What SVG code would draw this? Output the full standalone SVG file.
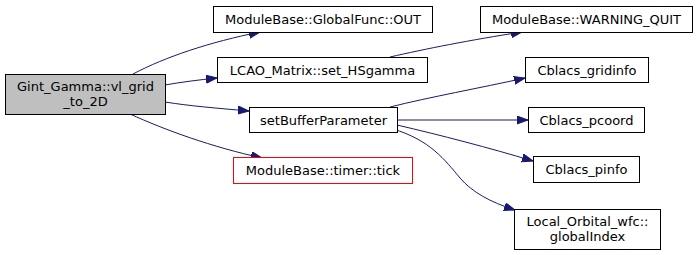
<svg xmlns="http://www.w3.org/2000/svg" width="699" height="255" viewBox="0 0 699 255">
  <style>
    .node rect { fill: #ffffff; stroke: #000000; stroke-width: 1; }
    .node.root rect { fill: #bfbfbf; }
    .node.ext rect { stroke: #ff0000; }
    text { font-family: "DejaVu Sans", sans-serif; font-size: 13px; fill: #000000; text-anchor: middle; }
    .edges path { fill: none; stroke: #191970; stroke-width: 1; marker-end: url(#arrow); }
  </style>
  <defs>
    <marker id="arrow" markerWidth="12" markerHeight="10" refX="11" refY="4" orient="auto" markerUnits="userSpaceOnUse">
      <path d="M0,0 L11,4 L0,8 Z" fill="#191970" stroke="#191970" stroke-width="1"/>
    </marker>
  </defs>
  <rect width="699" height="255" fill="#ffffff"/>

  <g class="edges">
    <path d="M133,74 C165,57 210,42 260,32"/>
    <path d="M165,85 C182,82 198,80 217,78"/>
    <path d="M165,102 C190,106 215,108 249,111"/>
    <path d="M130,114 C165,130 212,147 262,158"/>
    <path d="M390,57 C425,49 470,40 522,32"/>
    <path d="M390,107 C430,97 480,88 525,78"/>
    <path d="M397,120 L528,120"/>
    <path d="M397,125 C440,135 490,148 533,161"/>
    <path d="M393,129 C430,140 445,160 460,178 C472,192 490,202 515,210"/>
  </g>

  <g id="node-vl_grid_to_2D" class="node root">
    <rect x="5.5" y="74.5" width="160" height="40"/>
    <text x="85.5" y="91">Gint_Gamma::vl_grid</text>
    <text x="85.5" y="106">_to_2D</text>
  </g>
  <g id="node-GlobalFunc-OUT" class="node">
    <rect x="213.5" y="6.5" width="219" height="26"/>
    <text x="323" y="24">ModuleBase::GlobalFunc::OUT</text>
  </g>
  <g id="node-set_HSgamma" class="node">
    <rect x="217.5" y="57.5" width="210" height="25"/>
    <text x="322.5" y="75">LCAO_Matrix::set_HSgamma</text>
  </g>
  <g id="node-setBufferParameter" class="node">
    <rect x="249.5" y="107.5" width="148" height="25"/>
    <text x="323.5" y="125">setBufferParameter</text>
  </g>
  <g id="node-timer-tick" class="node ext">
    <rect x="233.5" y="157.5" width="179" height="26"/>
    <text x="323" y="175">ModuleBase::timer::tick</text>
  </g>
  <g id="node-WARNING_QUIT" class="node">
    <rect x="480.5" y="6.5" width="212" height="26"/>
    <text x="586.5" y="24">ModuleBase::WARNING_QUIT</text>
  </g>
  <g id="node-Cblacs_gridinfo" class="node">
    <rect x="525.5" y="57.5" width="123" height="25"/>
    <text x="587" y="75">Cblacs_gridinfo</text>
  </g>
  <g id="node-Cblacs_pcoord" class="node">
    <rect x="528.5" y="107.5" width="116" height="25"/>
    <text x="586.5" y="125">Cblacs_pcoord</text>
  </g>
  <g id="node-Cblacs_pinfo" class="node">
    <rect x="533.5" y="156.5" width="106" height="26"/>
    <text x="586.5" y="174">Cblacs_pinfo</text>
  </g>
  <g id="node-globalIndex" class="node">
    <rect x="514.5" y="209.5" width="146" height="40"/>
    <text x="587.5" y="226">Local_Orbital_wfc::</text>
    <text x="587.5" y="241">globalIndex</text>
  </g>
</svg>
